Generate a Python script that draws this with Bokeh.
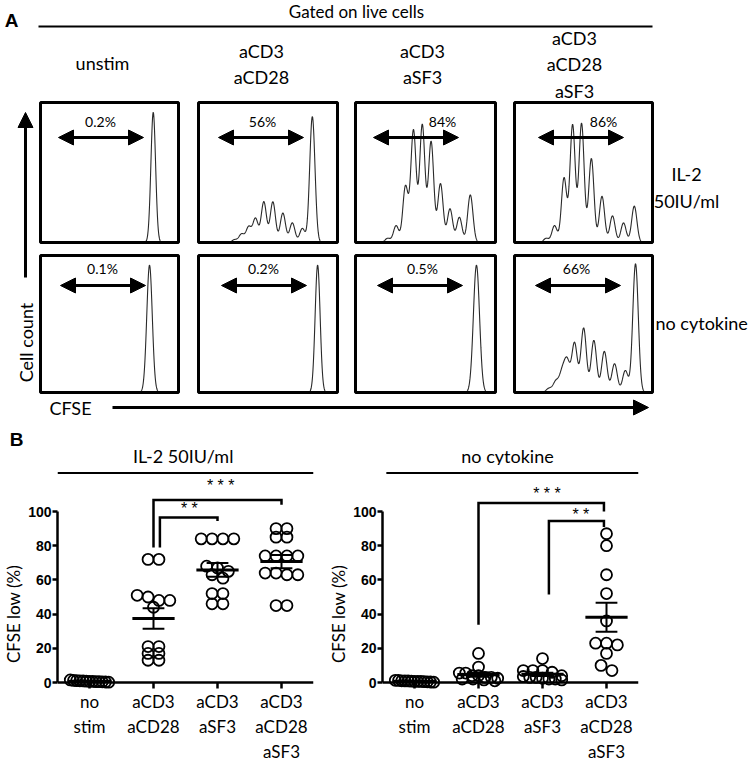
import numpy as np
from bokeh.plotting import figure
from bokeh.models import Range1d, Arrow, NormalHead, FixedTicker
from bokeh.layouts import column, row
from bokeh.embed import file_html
from bokeh.resources import INLINE
from bokeh.core.properties import value

# ================= DATA =================
# ---- panel A: CFSE dilution histograms ----
conditions = [["unstim"], ["aCD3", "aCD28"], ["aCD3", "aSF3"], ["aCD3", "aCD28", "aSF3"]]
pct_il2 = ["0.2%", "56%", "84%", "86%"]
pct_nocyt = ["0.1%", "0.2%", "0.5%", "66%"]

# peaks: position along CFSE axis (0-1 across box) and relative height
peak_pos_il2 = [
    [0.817],
    [0.26, 0.31, 0.361, 0.41, 0.47, 0.535, 0.607, 0.675, 0.747, 0.819],
    [0.23, 0.29, 0.357, 0.414, 0.477, 0.54, 0.607, 0.675, 0.742, 0.82],
    [0.23, 0.29, 0.359, 0.421, 0.486, 0.557, 0.634, 0.71, 0.79, 0.868],
]
peak_h_il2 = [
    [0.93],
    [0.02, 0.06, 0.11, 0.17, 0.29, 0.29, 0.21, 0.14, 0.10, 0.90],
    [0.03, 0.12, 0.40, 0.80, 0.84, 0.72, 0.42, 0.24, 0.18, 0.34],
    [0.03, 0.12, 0.46, 0.84, 0.85, 0.60, 0.33, 0.19, 0.14, 0.26],
]
peak_pos_nocyt = [
    [0.79],
    [0.857],
    [0.864],
    [0.25, 0.30, 0.345, 0.381, 0.435, 0.501, 0.575, 0.651, 0.725, 0.803, 0.877],
]
peak_h_nocyt = [
    [0.93],
    [0.93],
    [0.93],
    [0.03, 0.08, 0.14, 0.22, 0.36, 0.47, 0.38, 0.30, 0.21, 0.16, 0.94],
]
peak_sd_il2 = [0.017, 0.019, 0.019, 0.019]
peak_sd_nocyt = [0.02, 0.018, 0.022, 0.02]

# ---- panel B: CFSE low (%) per donor ----
group_titles = ["IL-2  50IU/ml", "no cytokine"]
categories = ["no\nstim", "aCD3\naCD28", "aCD3\naSF3", "aCD3\naCD28\naSF3"]
il2_nostim = [0.2, 0.5, 0.8, 1.0, 1.2, 0.4, 0.6, 1.5, 0.3, 0.9, 0.7, 1.1, 0.5]
il2_cd3cd28 = [72, 72, 51, 50, 48, 48, 44, 21, 21, 17, 17, 13, 13]
il2_cd3sf3 = [84, 84, 84, 84, 68, 67, 65, 63, 61, 52, 52, 46, 46]
il2_cd3cd28sf3 = [90, 90, 85, 85, 74, 74, 74, 74, 64, 63, 63, 64, 45, 45]
noc_nostim = [0.3, 0.6, 0.9, 1.2, 0.4, 0.8, 1.0, 0.5, 0.7, 1.3, 0.2, 0.6, 0.9]
noc_cd3cd28 = [17, 9, 5.5, 5.5, 4, 4, 3, 3, 2.5, 2, 2, 1.5, 1]
noc_cd3sf3 = [14, 7, 7, 7, 6, 4, 3.5, 3, 3, 2.5, 2, 2, 1.5]
noc_cd3cd28sf3 = [87, 80, 63, 52, 36, 23, 22, 23, 17, 10, 7]
y_ticks = [0, 20, 40, 60, 80, 100]

# ================= STYLE / LAYOUT =================
FONT = "Lato"
BOLD = "Liberation Sans"
TOP_H = 465      # height of the upper canvas (panel A, "B" letter, panel B titles)
BOT_H = 297      # height of panel B row

# ---------------- Panel A (page-pixel canvas) ----------------
pa = figure(width=750, height=TOP_H, x_range=Range1d(0, 750), y_range=Range1d(TOP_H, 0),
            output_backend="svg", toolbar_location=None, min_border=0)
pa.axis.visible = False
pa.grid.visible = False
pa.outline_line_color = None

box_left = [40, 198, 355, 514]
box_right = [178, 337, 495, 652]
row_top = [102, 255]
row_bot = [242, 392]
arrow_x0 = [[18, 20, 18, 24], [20, 23, 22, 21]]
arrow_len = 85
arrow_dy = [35, 30]
pct_dx = [[60, 64, 87, 89], [62, 65, 67, 62]]
pct_dy = [19, 13]

t = np.linspace(0.0, 1.0, 500)
rows_data = [(peak_pos_il2, peak_h_il2, peak_sd_il2, pct_il2),
             (peak_pos_nocyt, peak_h_nocyt, peak_sd_nocyt, pct_nocyt)]
for r, (ppos, ph, psd, pct) in enumerate(rows_data):
    for c in range(4):
        h = np.zeros_like(t)
        for m, a in zip(ppos[c], ph[c]):
            h += a * np.exp(-(t - m) ** 2 / (2 * psd[c] ** 2))
        xl, xr = box_left[c], box_right[c]
        yt, yb = row_top[r], row_bot[r]
        pa.line(xl + t * (xr - xl), yb - h * (yb - yt), line_color="#2a2a2a", line_width=1.1)
        pa.quad(left=[xl], right=[xr], top=[yt], bottom=[yb], fill_alpha=0,
                line_color="black", line_width=3)
        ay = yt + arrow_dy[r]
        x0 = xl + arrow_x0[r][c]
        pa.add_layout(Arrow(x_start=x0, y_start=ay, x_end=x0 + arrow_len, y_end=ay,
                            line_width=3, line_color="black",
                            start=NormalHead(size=15, fill_color="black", line_color="black"),
                            end=NormalHead(size=15, fill_color="black", line_color="black")))
        pa.text(x=[xl + pct_dx[r][c]], y=[yt + pct_dy[r]], text=[pct[c]],
                text_font=value(FONT), text_font_size="14px",
                text_align="center", text_baseline="middle", text_color="black")

# column headers
hdr_x = [102, 261, 422, 574]
hdr_y = {1: [62], 2: [50, 76], 3: [37, 63, 90]}
for c, lines in enumerate(conditions):
    ys = hdr_y[len(lines)]
    pa.text(x=[hdr_x[c]] * len(lines), y=ys, text=lines, text_font=value(FONT),
            text_font_size="18px", text_align="center", text_baseline="middle")

# row labels
pa.text(x=[686, 686], y=[173, 200], text=["IL-2", "50IU/ml"], text_font=value(FONT),
        text_font_size="18px", text_align="center", text_baseline="middle")
pa.text(x=[655], y=[322], text=["no cytokine"], text_font=value(FONT),
        text_font_size="18px", text_align="left", text_baseline="middle")

# gate header
pa.text(x=[356], y=[11], text=["Gated on live cells"], text_font=value(FONT),
        text_font_size="17px", text_align="center", text_baseline="middle")
pa.line([38, 652], [26, 26], line_color="black", line_width=2)
pa.text(x=[11], y=[20], text=["A"], text_font=value(BOLD), text_font_style="bold",
        text_font_size="19px", text_align="center", text_baseline="middle")

# axes arrows
pa.add_layout(Arrow(x_start=25, y_start=277, x_end=25, y_end=112, line_width=3,
                    line_color="black",
                    end=NormalHead(size=15, fill_color="black", line_color="black")))
pa.add_layout(Arrow(x_start=112, y_start=407, x_end=648, y_end=407, line_width=3,
                    line_color="black",
                    end=NormalHead(size=15, fill_color="black", line_color="black")))
pa.text(x=[25], y=[342], text=["Cell count"], angle=np.pi / 2, text_font=value(FONT),
        text_font_size="18px", text_align="center", text_baseline="middle")
pa.text(x=[70], y=[407], text=["CFSE"], text_font=value(FONT),
        text_font_size="18px", text_align="center", text_baseline="middle")

# panel B letter and group titles (drawn on the page canvas above the dot plots)
pa.text(x=[16], y=[439], text=["B"], text_font=value(BOLD), text_font_style="bold",
        text_font_size="19px", text_align="center", text_baseline="middle")
pa.text(x=[185, 507], y=[455, 455], text=group_titles, text_font=value(FONT),
        text_font_size="18px", text_align="center", text_baseline="middle")


# ---------------- Panel B ----------------
def swarm(vals, center, thr=3.0, step=0.17, maxw=0.6):
    vals = np.asarray(vals, dtype=float)
    order = np.argsort(-vals, kind="stable")
    xs = np.zeros(len(vals))
    groups, cur = [], []
    for idx in order:
        if cur and vals[cur[0]] - vals[idx] > thr:
            groups.append(cur)
            cur = []
        cur.append(idx)
    groups.append(cur)
    for g in groups:
        k = len(g)
        s = step if k <= 1 else min(step, maxw / (k - 1))
        for j, idx in enumerate(g):
            xs[idx] = center + (j - (k - 1) / 2) * s
    return xs


PX_PER_UNIT = 1.71
Y0_PX = 682 - TOP_H          # pixel row of y=0 inside the lower row
y_top = Y0_PX / PX_PER_UNIT
y_bot = -(BOT_H - Y0_PX) / PX_PER_UNIT


def dot_panel(groups, width, bl, br, hline_x0, brackets, stars):
    p = figure(width=width, height=BOT_H, x_range=Range1d(0.5, 4.5),
               y_range=Range1d(y_bot, y_top),
               output_backend="svg", toolbar_location=None,
               min_border_left=bl, min_border_right=br, min_border_top=0, min_border_bottom=0)
    p.grid.visible = False
    p.outline_line_color = None

    xa = p.xaxis[0]
    xa.fixed_location = 0
    xa.ticker = FixedTicker(ticks=[1, 2, 3, 4])
    xa.major_label_overrides = {i + 1: c for i, c in enumerate(categories)}
    xa.major_label_text_font = FONT
    xa.major_label_text_font_size = "17px"
    xa.major_label_text_color = "black"
    xa.major_label_standoff = 2
    xa.axis_line_width = 2.5
    xa.axis_line_color = "black"
    xa.major_tick_line_width = 2.5
    xa.major_tick_line_color = "black"
    xa.major_tick_out = 6
    xa.major_tick_in = 0
    xa.minor_tick_line_color = None

    ya = p.yaxis[0]
    ya.bounds = (0, 100)
    ya.ticker = FixedTicker(ticks=y_ticks)
    ya.major_label_text_font = BOLD
    ya.major_label_text_font_style = "bold"
    ya.major_label_text_font_size = "14px"
    ya.major_label_text_color = "black"
    ya.major_label_standoff = 1
    ya.axis_line_width = 2.5
    ya.axis_line_color = "black"
    ya.major_tick_line_width = 2.5
    ya.major_tick_line_color = "black"
    ya.major_tick_out = 5
    ya.major_tick_in = 0
    ya.minor_tick_line_color = None
    ya.axis_label = "CFSE low (%)"
    ya.axis_label_text_font = FONT
    ya.axis_label_text_font_style = "normal"
    ya.axis_label_text_font_size = "17px"
    ya.axis_label_text_color = "black"
    ya.axis_label_standoff = 1

    for i, vals in enumerate(groups):
        cx = i + 1
        xs = swarm(vals, cx)
        p.scatter(xs, vals, marker="circle", size=11, fill_alpha=0,
                  line_color="black", line_width=1.8)
        arr = np.asarray(vals, dtype=float)
        mean = arr.mean()
        sem = arr.std(ddof=1) / np.sqrt(len(arr))
        p.segment(x0=[cx - 0.33], y0=[mean], x1=[cx + 0.33], y1=[mean],
                  line_color="black", line_width=3)
        p.segment(x0=[cx, cx - 0.17, cx - 0.17], y0=[mean - sem, mean + sem, mean - sem],
                  x1=[cx, cx + 0.17, cx + 0.17], y1=[mean + sem, mean + sem, mean - sem],
                  line_color="black", line_width=2)

    for bx, by in brackets:
        p.line(bx, by, line_color="black", line_width=2.5, line_join="miter")
    for sx, sy, st in stars:
        p.text(x=[sx], y=[sy], text=[st], text_font=value(BOLD), text_font_size="16px",
               text_align="center", text_baseline="middle")

    p.line([hline_x0, 4.5], [122.5, 122.5], line_color="black", line_width=2)
    return p


pbl = dot_panel([il2_nostim, il2_cd3cd28, il2_cd3sf3, il2_cd3cd28sf3], 325, 53, 12, 0.5,
                brackets=[([2.1, 2.1, 3.0, 3.0], [79, 96.5, 96.5, 94.5]),
                          ([2.0, 2.0, 4.0, 4.0], [79, 106.7, 106.7, 104.0])],
                stars=[(2.56, 102.0, "* *"), (3.05, 115.0, "* * *")])

pbr = dot_panel([noc_nostim, noc_cd3cd28, noc_cd3sf3, noc_cd3cd28sf3], 425, 48, 112, 0.56,
                brackets=[([2.0, 2.0, 3.96, 3.96], [33.7, 105.0, 105.0, 100.0]),
                          ([3.1, 3.1, 3.96, 3.96], [51.5, 94.5, 94.5, 91.0])],
                stars=[(3.07, 110.5, "* * *"), (3.6, 98.0, "* *")])

layout = column(pa, row(pbl, pbr, spacing=0), spacing=0)

with open("out.html", "w") as f:
    f.write(file_html(layout, INLINE))
